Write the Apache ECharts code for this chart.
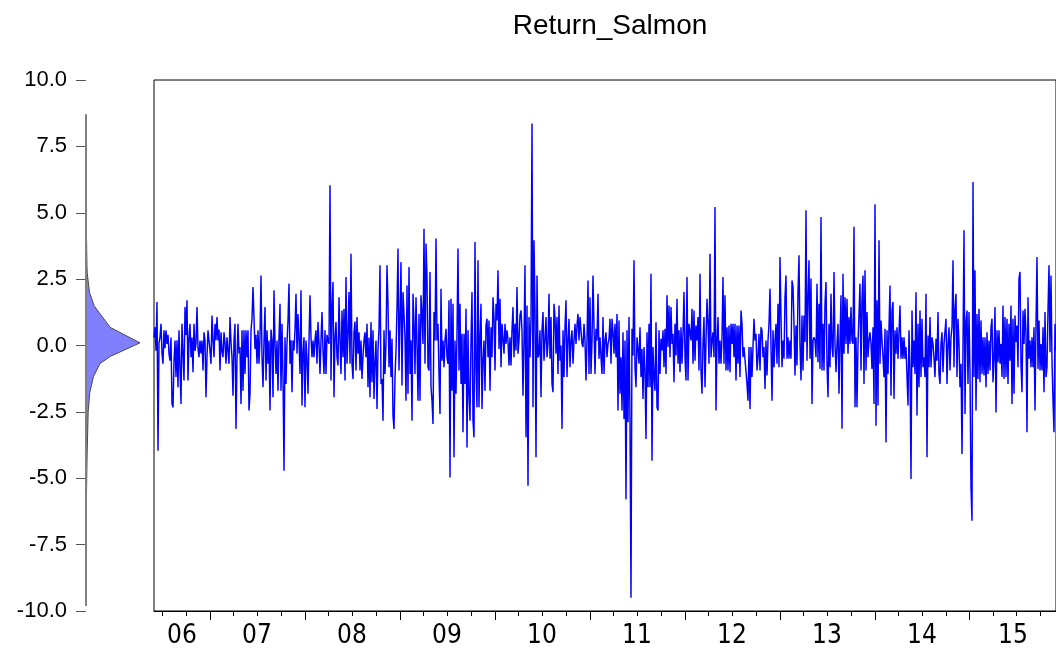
<!DOCTYPE html>
<html><head><meta charset="utf-8">
<script src="https://cdn.jsdelivr.net/npm/echarts@6/dist/echarts.min.js"></script>
<style>html,body{margin:0;padding:0;background:#fff}#c{width:1056px;height:656px}</style>
</head><body><div id="c"></div>
<script>
const titleText = 'Return_Salmon';
const startDate = '2006-06-02';   // first observation
const endDate   = '2015-12-02';   // last observation
const yearLabels = ['06','07','08','09','10','11','12','13','14','15'];
const yMin = -10, yMax = 10, yStep = 2.5;

// returns (%), left to right
const part1 = [0.3,0.69,-0.2,1.64,-3.96,0.1,0.31,0.82,-0.3,-0.69,0.57,-0.1,0.57,0.06,0.4,-0.31,-0.57,0.3,-2.2,-2.33,-0.6,0.19,-1.19,0.2,-1.57,0.57,-0.8,-2.2,0.82,-0.3,-1.32,1.45,0.4,1.7,-1.32,0.3,0.82,-0.44,0.3,-1.01,0.82,-0.2,0.06,1.45,-0.1,-0.44,0.19,-0.3,0.19,-0.94,0.5,0.19,-1.95,-0.4,0.57,0.57,-0.2,-0.69,1.13,0.2,-0.44,0.82,0.2,1.07,0.19,0.6,-0.94,0.5,-0.2,-0.44,0.5,0.1,-0.69,0.31,-0.2,-0.69,1.07,0.1,-0.44,-1.89,0.2,0.82,-3.14,-0.5,0.82,-0.3];
const part2 = [-0.06,-2.2,0.57,-1.7,0.57,-1.07,0.57,-0.44,0.57,-2.45,-1.82,0.57,1.0,2.2,2.14,-0.13,0.4,-0.69,0.57,-0.69,0.3,2.64,-0.44,-1.57,0.2,1.45,-1.32,0.57,-0.69,0.19,-2.45,0.6,0.19,-1.95,2.08,0.1,-1.07,0.19,-1.7,0.3,1.57,-1.7,0.82,-1.2,-4.72,0.31,-1.45,0.1,0.94,2.33,-0.69,0.2,-1.76,0.19,-0.19,0.6,1.95,-0.31,1.19,0.2,-1.07,2.08,-2.26,-0.3,0.31,-2.33,0.19,-0.5,-1.82,0.19,1.89,0.3,-0.44,0.19,-0.44,0.2,0.57,-0.69,0.88,0.1,-1.07,0.19,1.26,-0.2,-1.07,0.57,-1.07,0.4,0.19,0.06];
const part3 = [6.04,-1.32,1.45,2.39,-1.95,0.3,0.88,-0.44,-0.75,1.82,0.2,-1.07,1.32,-0.44,1.38,-1.32,2.58,-0.69,0.4,2.01,-0.69,3.46,-0.69,-1.26,0.5,0.9,-0.94,1.07,-0.31,0.5,-0.94,0.19,-1.26,-0.4,0.19,0.5,-0.44,0.82,-1.57,0.3,-1.95,0.88,-1.38,0.57,-2.01,-0.6,0.19,-2.39,-0.13,0.6,3.02,-1.45,-1.26,-2.83,0.57,-1.07,0.1,3.02,1.57,-0.82,0.57,-1.19,0.25,-2.64,-3.14,-1.19,-0.2,1.45,3.65,-0.94,1.07,3.14,-1.51,2.01,1.19,0.3,-2.08,2.26,-1.82,2.96,-1.07,0.2,-2.83,1.95,0.88,-1.07,1.82,0.06,-2.08,1.19];
const part4 = [-2.08,1.89,1.19,0.06,4.4,-0.69,3.84,2.58,-0.82,-0.94,2.77,-1.57,-2.08,-2.96,1.26,0.19,4.03,0.19,0.82,-1.07,-2.58,2.14,-0.57,0.19,-0.82,0.19,0.63,-0.44,-0.69,1.7,-4.97,1.76,-1.7,1.57,-4.21,0.19,-1.82,0.44,3.65,-0.94,1.57,-1.45,0.44,-3.27,0.44,-1.45,1.38,-3.84,0.57,-1.89,-2.83,0.19,2.01,-2.83,-3.46,3.9,-0.94,-2.33,3.21,-2.33,0.31,1.57,-2.39,-0.57,0.19,-1.7,0.75,1.01,-0.44,0.94,-1.7,0.69,-0.44,1.82,1.07,-0.94,1.57,0.94,2.83,-0.13,1.76,-0.82,0.82,0.82,-0.31,0.82,0.06,0.57,0.19,-0.75];
const part5 = [0.31,-0.75,0.57,1.45,-0.44,0.82,-0.19,2.2,-0.31,0.19,1.13,1.32,0.57,-1.89,0.19,3.02,-3.46,1.51,-5.28,1.07,-0.44,1.01,8.36,-2.33,3.96,1.32,-4.21,2.64,-0.44,-0.31,0.57,-1.95,0.57,1.26,-0.57,0.19,1.07,-0.44,0.06,1.95,-0.5,1.07,-1.45,-1.76,1.57,1.07,-0.31,1.07,-1.07,1.51,-0.57,0.0,-3.14,0.57,-1.19,0.69,1.7,-1.19,0.19,1.01,-0.82,0.19,0.57,-0.69,0.19,0.82,0.06,0.75,1.19,0.19,1.07,0.57,0.06,-0.06,0.82,0.19,-1.32,0.19,2.45,-1.07,1.82,-1.07,0.19,2.64,0.69,-1.07,0.63,0.19,1.95,-0.5];
const part6 = [0.31,-0.44,-1.07,1.07,-1.07,0.19,0.5,-0.44,0.06,0.25,1.01,-0.69,1.01,0.5,-0.31,0.82,-0.44,1.19,-2.45,0.94,-1.82,-0.44,-2.45,0.5,-2.77,0.19,-5.79,0.57,-2.89,1.07,-2.89,-9.5,0.63,-0.38,3.21,-0.82,-1.57,0.31,-0.13,-0.69,0.69,-1.19,-0.13,-2.01,-0.06,-0.94,-3.52,0.5,-1.57,0.82,-1.57,2.7,-4.34,-0.06,-1.19,-1.7,0.88,-2.33,-2.45,0.57,-1.07,0.25,-0.19,0.57,-0.82,0.63,-1.07,1.89,-0.06,1.51,-0.44,1.45,0.06,0.44,-1.38,0.82,-0.38,1.76,-0.69,0.57,-1.01,0.69,-0.69,0.44,2.01,-0.44,-1.32,2.58,-1.32,0.82];
const part7 = [0.82,0.19,1.38,-0.69,1.32,-0.57,0.75,0.19,1.07,-0.94,2.7,-0.94,-1.82,0.06,1.07,-1.57,0.19,1.76,0.82,-0.69,3.46,-0.44,0.19,0.5,-0.44,5.22,-2.45,0.19,1.07,-0.69,0.19,-0.69,0.31,2.58,-0.69,1.89,-0.94,0.69,-0.94,0.75,-1.01,0.82,0.06,0.82,-0.44,0.82,-1.32,0.75,-0.69,0.75,-1.19,1.32,0.82,-0.44,-0.06,-0.06,-0.13,-1.45,-2.08,-0.06,-2.39,-0.06,-1.19,-0.06,1.01,0.19,0.44,-0.94,-0.44,0.44,-0.94,0.69,0.57,-0.44,-0.06,-1.64,0.19,-1.13,0.19,0.82,2.14,-0.06,-2.08,0.57,-0.82,0.19,0.82,-0.69,1.57,-0.82];
const part8 = [3.33,1.07,-0.82,0.19,-0.5,1.82,2.64,-0.5,0.31,-0.5,0.19,-0.5,2.45,2.2,0.82,-1.13,0.75,-0.75,2.01,3.4,0.0,-1.32,1.13,-0.94,1.13,0.13,5.09,-0.57,1.82,3.21,-0.5,2.52,-2.2,0.19,0.31,0.19,-0.44,2.33,-0.63,1.57,-0.88,4.84,-0.94,0.82,-0.94,1.57,2.39,-0.69,-1.95,0.82,-0.82,1.95,-0.06,-0.44,2.77,0.06,-1.01,0.06,0.82,-1.82,0.19,1.89,-3.14,2.7,-0.31,1.82,0.06,1.76,-0.31,1.07,0.06,1.45,0.19,0.06,4.47,-2.33,0.31,-2.33,0.06,1.19,2.33,-0.94,1.7,2.64,-1.45,2.83,-0.94,1.26,-0.44,0.19];
const part9 = [0.5,0.06,-0.88,0.69,-2.2,5.32,-3.02,1.7,-2.26,3.96,-0.69,0.94,0.19,-0.44,-1.19,0.63,-3.65,0.57,-1.07,0.69,2.26,-1.89,1.32,1.64,-2.01,0.57,-0.31,0.69,-0.5,-0.5,1.51,-0.5,0.31,-0.5,0.31,-0.5,-0.06,-0.13,-2.26,0.57,-0.82,-5.03,1.32,-0.82,0.19,-1.07,2.01,-2.64,0.82,-1.57,1.32,-1.19,1.01,-0.82,-0.44,-1.19,1.95,-4.21,0.38,-0.82,1.07,-0.82,0.31,0.06,-0.5,-1.19,0.25,-0.57,1.26,-1.07,-1.45,0.06,0.5,-1.01,0.06,0.06,1.01,-1.45,0.06,0.69,-0.94,0.31,0.69,3.21,-0.82,1.38,1.95,-1.19,1.01,0.06];
const part10 = [-1.57,-0.69,-4.09,-0.06,4.34,-2.58,0.88,1.32,-1.45,1.26,-1.07,-5.35,-6.6,6.16,-1.19,2.83,-2.45,1.19,-1.26,1.38,-1.38,0.94,-1.07,0.31,-1.13,0.31,-1.57,0.5,-1.07,0.19,-0.94,0.69,1.01,-1.38,-0.5,1.45,-2.52,0.57,-0.63,0.57,-0.69,0.06,-1.19,1.51,-1.26,1.07,-1.19,1.01,-1.45,0.82,-0.57,1.51,-2.2,1.01,-1.82,1.13,0.13,0.75,-0.82,2.52,2.77,-0.69,-1.76,1.32,0.06,1.38,0.5,-3.27,1.82,-0.5,0.19,-0.82,0.31,-0.82,0.69,-2.45,0.82,3.33,-0.88,0.94,-0.94,0.06,-0.94,0.69,-1.76,1.26,-1.19,-0.82,1.32,3.02,-0.25,2.64,-0.57,-2.08,-3.27,0.82,-0.19];

// kernel density outline (return level, relative density)
const densityValue  = [8.7, 6.0, 4.0, 3.0, 2.7, 2.0, 1.5, 1.22, 0.68, 0.1, -0.41, -0.68, -1.16, -1.77, -2.5, -4.2, -6.0, -9.8];
const densityHeight = [0, 0.004, 0.01, 0.018, 0.024, 0.065, 0.15, 0.25, 0.45, 1.0, 0.45, 0.26, 0.14, 0.07, 0.04, 0.02, 0.006, 0];

const returns = [].concat(part1, part2, part3, part4, part5, part6, part7, part8, part9, part10);
const tStart = new Date(startDate + 'T00:00:00Z').getTime();
const tEnd = new Date(endDate + 'T00:00:00Z').getTime();
const step = (tEnd - tStart) / (returns.length - 1);
const dates = returns.map((_, i) => new Date(tStart + i * step));
const cats = dates.map(d => d.toISOString().slice(0, 10));

const yearTick = new Set(), quarterTick = new Set(), labelAt = new Map();
const yearRange = {};
dates.forEach((d, i) => {
  const y = d.getUTCFullYear(), q = Math.floor(d.getUTCMonth() / 3);
  if (!yearRange[y]) yearRange[y] = [i, i]; else yearRange[y][1] = i;
  if (i > 0) {
    const p = dates[i - 1];
    if (p.getUTCFullYear() !== y) yearTick.add(i);
    else if (Math.floor(p.getUTCMonth() / 3) !== q) quarterTick.add(i);
  }
});
Object.keys(yearRange).forEach(y => {
  const r = yearRange[y];
  labelAt.set(Math.round((r[0] + r[1]) / 2), yearLabels[+y - 2006]);
});

const font = "'Liberation Sans', Arial, sans-serif";
const narrow = "'Liberation Sans Narrow', 'Arial Narrow', 'DejaVu Sans Condensed', sans-serif";

const chart = echarts.init(document.getElementById('c'), null, {renderer: 'canvas'});
chart.setOption({
  animation: false,
  backgroundColor: '#fff',
  title: {
    text: titleText, left: 605, top: 7, textAlign: 'center',
    textStyle: {fontFamily: font, fontSize: 28, fontWeight: 'normal', color: '#000'}
  },
  grid: [
    {left: 154, right: -1, top: 80, height: 531, show: true, borderColor: '#000', borderWidth: 1, backgroundColor: '#fff'},
    {left: 86, top: 80, width: 54, height: 531}
  ],
  xAxis: [
    {type: 'category', gridIndex: 0, position: 'bottom', data: cats, boundaryGap: false,
     axisLine: {show: true, onZero: false, lineStyle: {color: '#000', width: 1}},
     axisTick: {show: true, length: 9, interval: (i) => yearTick.has(i), lineStyle: {color: '#000'}},
     axisLabel: {show: true, interval: (i) => labelAt.has(i), formatter: (v, i) => labelAt.get(i) || '',
       fontFamily: narrow, fontSize: 26, color: '#000', margin: 12},
     splitLine: {show: false}},
    {type: 'category', gridIndex: 0, position: 'bottom', data: cats, boundaryGap: false,
     axisLine: {show: false, onZero: false},
     axisTick: {show: true, length: 5, interval: (i) => quarterTick.has(i), lineStyle: {color: '#000'}},
     axisLabel: {show: false}, splitLine: {show: false}},
    {type: 'value', gridIndex: 1, min: 0, max: 1, show: false}
  ],
  yAxis: [
    {type: 'value', gridIndex: 0, min: yMin, max: yMax, interval: yStep,
     axisLine: {show: false}, axisTick: {show: false}, axisLabel: {show: false}, splitLine: {show: false}},
    {type: 'value', gridIndex: 1, min: yMin, max: yMax, interval: yStep, position: 'left',
     axisLine: {show: false},
     axisTick: {show: true, length: 10, lineStyle: {color: '#555'}},
     axisLabel: {show: true, formatter: v => v.toFixed(1), fontFamily: font, fontSize: 22, color: '#000', margin: 19},
     splitLine: {show: false}}
  ],
  series: [
    {type: 'line', xAxisIndex: 0, yAxisIndex: 0, data: returns, showSymbol: false, symbol: 'none',
     sampling: null, lineStyle: {color: '#0000ff', width: 1.45}, silent: true},
    {type: 'custom', xAxisIndex: 2, yAxisIndex: 1, data: [[0, 0]], silent: true,
     renderItem: (params, api) => {
       const pts = densityValue.map((v, i) => api.coord([densityHeight[i], v]));
       const a = api.coord([0, densityValue[0]]);
       const b = api.coord([0, densityValue[densityValue.length - 1]]);
       return {type: 'group', children: [
         {type: 'polygon', shape: {points: pts}, style: {fill: '#8080ff', stroke: '#4a4a4a', lineWidth: 1}},
         {type: 'line', shape: {x1: a[0], y1: a[1], x2: b[0], y2: b[1]}, style: {stroke: '#808080', lineWidth: 2}}
       ]};
     }}
  ]
});
</script></body></html>
